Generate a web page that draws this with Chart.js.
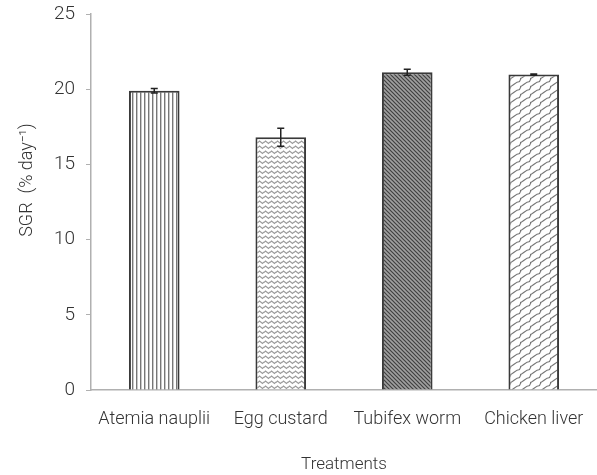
<!DOCTYPE html>
<html><head><meta charset="utf-8">
<script src="https://cdn.jsdelivr.net/npm/chart.js@4"></script>
<style>html,body{margin:0;padding:0;background:#fff}#wrap{width:597px;height:475px}</style>
</head><body><div id="wrap"><canvas id="c" width="597" height="475"></canvas></div>
<script>
const categories = ["Atemia nauplii", "Egg custard", "Tubifex worm", "Chicken liver"];
const sgrValues = [19.9, 16.8, 21.12, 20.97];
const sgrErrors = [0.15, 0.6, 0.2, 0.04];
const yTicks = [0, 5, 10, 15, 20, 25];

function mk(w, h, draw) {
  const c = document.createElement('canvas'); c.width = w; c.height = h;
  const g = c.getContext('2d'); g.fillStyle = '#fff'; g.fillRect(0, 0, w, h);
  draw(g); return g.createPattern(c, 'repeat');
}
const patterns = [
  mk(4, 4, g => { g.fillStyle = '#777'; g.fillRect(0, 0, 1.4, 4); }),
  mk(6, 5, g => { g.strokeStyle = '#9a9a9a'; g.lineWidth = 1.1; g.beginPath();
    g.moveTo(0, 2.5); g.lineTo(1.5, 1); g.lineTo(4.5, 3.5); g.lineTo(6, 2); g.stroke(); }),
  mk(4, 4, g => { g.fillStyle = '#a0a0a0'; g.fillRect(0,0,4,4); g.strokeStyle = '#404040'; g.lineWidth = 1.2; g.beginPath();
    g.moveTo(-1, -1); g.lineTo(5, 5); g.moveTo(3, -1); g.lineTo(5, 1); g.moveTo(-1, 3); g.lineTo(1, 5); g.stroke(); }),
  mk(10, 8, g => { g.strokeStyle = '#777'; g.lineWidth = 1.1; g.beginPath();
    g.moveTo(0, 6.5); g.bezierCurveTo(3, 6.5, 5, 1.5, 10, 1.5);
    g.moveTo(0, 14.5); g.bezierCurveTo(3, 14.5, 5, 9.5, 10, 9.5);
    g.moveTo(-10, 6.5); g.bezierCurveTo(-7, 6.5, -5, 1.5, 0, 1.5);
    g.moveTo(1, 6.5); g.lineTo(-0.5, 9.5); g.moveTo(11, 6.5); g.lineTo(9.5, 9.5);
    g.moveTo(1, -1.5); g.lineTo(-0.5, 1.5); g.moveTo(11, -1.5); g.lineTo(9.5, 1.5);
    g.stroke(); })
];

const errorBars = {
  id: 'errorBars',
  afterDatasetsDraw(chart) {
    const { ctx, scales: { y } } = chart;
    const meta = chart.getDatasetMeta(0);
    ctx.save(); ctx.strokeStyle = '#222'; ctx.lineWidth = 1.5;
    meta.data.forEach((bar, i) => {
      const x = bar.x, v = sgrValues[i], e = sgrErrors[i];
      const yt = y.getPixelForValue(v + e), yb = y.getPixelForValue(v - e);
      ctx.beginPath();
      ctx.moveTo(x, yt); ctx.lineTo(x, yb);
      ctx.moveTo(x - 3.5, yt); ctx.lineTo(x + 3.5, yt);
      ctx.moveTo(x - 3.5, yb); ctx.lineTo(x + 3.5, yb);
      ctx.stroke();
    });
    ctx.restore();
  }
};

new Chart(document.getElementById('c'), {
  type: 'bar',
  data: { labels: categories, datasets: [{ data: sgrValues, backgroundColor: patterns,
    borderColor: '#3a3a3a', borderWidth: 2, borderSkipped: 'bottom',
    barPercentage: 0.8, categoryPercentage: 0.5 }] },
  options: {
    responsive: false, animation: false,
    layout: { padding: { top: 14, right: 0, left: 0, bottom: 0 } },
    plugins: { legend: { display: false }, tooltip: { enabled: false } },
    scales: {
      x: {
        grid: { display: false, drawTicks: false },
        border: { color: '#b0b0b0', width: 1.5 },
        ticks: { color: '#333', font: { family: 'Roboto', size: 18, weight: 300 }, padding: 19, maxRotation: 0 },
        title: { display: true, text: 'Treatments', color: '#333', font: { family: 'Roboto', size: 17, weight: 300 }, padding: { top: 11, bottom: 0 } },
        afterFit(s) { s.height = 85; s.paddingLeft = 0; s.paddingRight = 0; }
      },
      y: {
        min: 0, max: 25,
        afterBuildTicks(s) { s.ticks = yTicks.map(v => ({ value: v })); },
        grid: { display: true, drawOnChartArea: false, drawTicks: true, tickLength: 5, color: '#b0b0b0' },
        border: { color: '#b0b0b0', width: 1.5 },
        ticks: { color: '#333', font: { family: 'Roboto', size: 19, weight: 300 }, padding: 11 },
        title: { display: true, text: '          SGR  (% day\u207B\u00B9)', color: '#333', font: { family: 'Roboto', size: 18, weight: 300 }, padding: { top: 17, bottom: 4 } },
        afterFit(s) { s.width = 91; s.paddingTop = 0; s.paddingBottom = 0; }
      }
    }
  },
  plugins: [errorBars]
});
</script></body></html>
